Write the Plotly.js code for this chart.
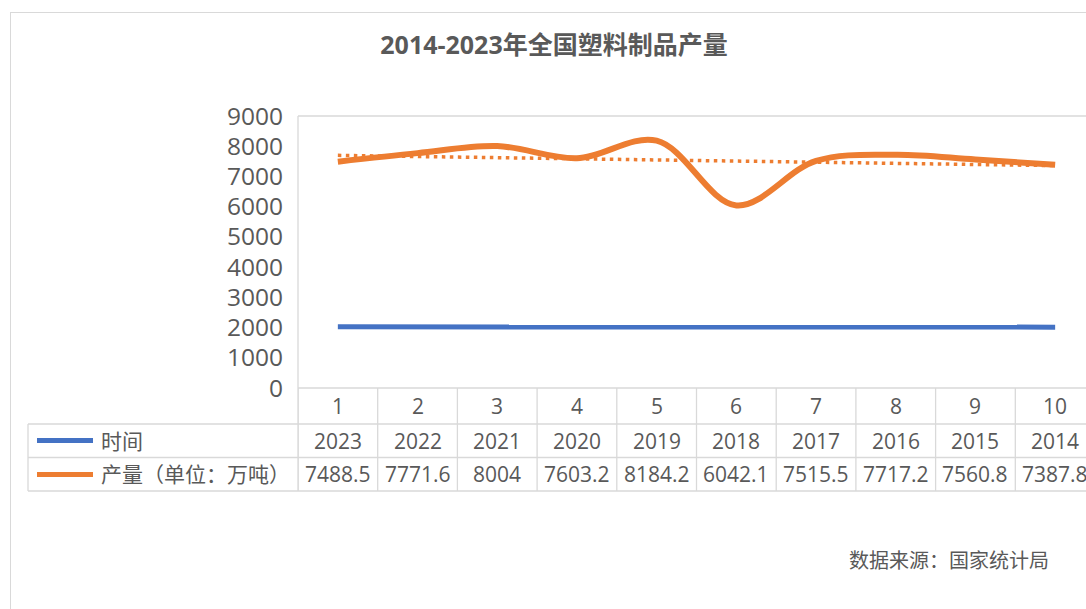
<!DOCTYPE html>
<html><head><meta charset="utf-8">
<script src="https://cdn.plot.ly/plotly-3.0.1.min.js"></script>
<style>
html,body{margin:0;padding:0;overflow:hidden;background:#fff;width:1086px;height:609px;}
#frame{position:absolute;left:10px;top:12px;width:1200px;height:700px;border-left:1px solid #d9d9d9;border-top:1px solid #d9d9d9;}
#chart{position:absolute;left:0;top:0;width:1100px;height:609px;}
</style></head>
<body>
<div id="frame"></div>
<div id="chart"></div>
<script>
const categories = [1,2,3,4,5,6,7,8,9,10];
const years = [2023,2022,2021,2020,2019,2018,2017,2016,2015,2014];
const output = [7488.5,7771.6,8004,7603.2,8184.2,6042.1,7515.5,7717.2,7560.8,7387.8];
const outputLabels = ['7488.5','7771.6','8004','7603.2','8184.2','6042.1','7515.5','7717.2','7560.8','7387.8'];
const yTicks = [0,1000,2000,3000,4000,5000,6000,7000,8000,9000];
const seriesNames = ['时间','产量（单位：万吨）'];
const titleText = '2014-2023年全国塑料制品产量';
const sourceText = '数据来源：国家统计局';

// linear trendline (least squares) of output
const n = categories.length;
const mx = categories.reduce((a,b)=>a+b,0)/n;
const my = output.reduce((a,b)=>a+b,0)/n;
let sxy=0,sxx=0;
for(let i=0;i<n;i++){sxy+=(categories[i]-mx)*(output[i]-my);sxx+=(categories[i]-mx)**2;}
const slope=sxy/sxx, icpt=my-slope*mx;
const trend = categories.map(x=>icpt+slope*x);

const W=1100,H=609,L=298,R=1095,T=116,B=388;
const pw=R-L, ph=B-T;
const px=v=>(v-L)/pw, py=v=>(B-v)/ph;

const FONT='"Open Sans","Noto Sans CJK SC",sans-serif';
const TXT='#595959', GRID='#d9d9d9';
const BLUE='#4472C4', ORANGE='#ED7D31';

const traces=[
 {x:categories,y:years,type:'scatter',mode:'lines',line:{color:BLUE,width:5},hoverinfo:'skip',name:seriesNames[0]},
 {x:categories,y:output,type:'scatter',mode:'lines',line:{color:ORANGE,width:6,shape:'spline',smoothing:1},name:seriesNames[1]},
 {x:categories,y:trend,type:'scatter',mode:'lines',line:{color:ORANGE,width:3.5,dash:'3.5px,4.5px'},name:'trend'}
];

const r1=424, r2=457.5, r3=491;
const shapes=[];
const ln=(x0,y0,x1,y1,xref,yref,color,width)=>shapes.push({type:'line',x0,y0,x1,y1,xref,yref,line:{color:color||GRID,width:width||1.3},layer:'below'});
ln(0,1,1,1,'paper','paper');
ln(0,1,0,py(r3),'paper','paper');
ln(0,0,1,0,'paper','paper');
ln(px(28),py(r1),1,py(r1),'paper','paper');
ln(px(28),py(r2),1,py(r2),'paper','paper');
ln(px(28),py(r3),1,py(r3),'paper','paper');
ln(px(28),py(r1),px(28),py(r3),'paper','paper');
for(let i=0;i<=n;i++){ln(categories[0]-0.5+i,0,categories[0]-0.5+i,py(r3),'x','paper');}
shapes.push({type:'line',xref:'paper',yref:'paper',x0:px(37),x1:px(93),y0:py(440.5),y1:py(440.5),line:{color:BLUE,width:5}});
shapes.push({type:'line',xref:'paper',yref:'paper',x0:px(37),x1:px(93),y0:py(474.5),y1:py(474.5),line:{color:ORANGE,width:5}});

const ann=[];
const tf={family:FONT,size:21,color:TXT};
categories.forEach((c,i)=>{
 ann.push({x:c,y:py(406),xref:'x',yref:'paper',text:String(c),showarrow:false,font:tf,xanchor:'center',yanchor:'middle'});
 ann.push({x:c,y:py(440.5),xref:'x',yref:'paper',text:String(years[i]),showarrow:false,font:tf,xanchor:'center',yanchor:'middle'});
 ann.push({x:c,y:py(474.5),xref:'x',yref:'paper',text:outputLabels[i],showarrow:false,font:tf,xanchor:'center',yanchor:'middle'});
});
ann.push({x:px(99),y:py(440.5),xref:'paper',yref:'paper',text:seriesNames[0],showarrow:false,font:tf,xanchor:'left',yanchor:'middle'});
ann.push({x:px(99),y:py(474.5),xref:'paper',yref:'paper',text:seriesNames[1],showarrow:false,font:tf,xanchor:'left',yanchor:'middle'});
ann.push({x:px(1051),y:py(560),xref:'paper',yref:'paper',text:sourceText,showarrow:false,font:{family:FONT,size:20,color:TXT},xanchor:'right',yanchor:'middle'});

const layout={
 width:W,height:H,
 margin:{l:L,r:W-R,t:T,b:H-B,pad:0},
 paper_bgcolor:'rgba(0,0,0,0)',plot_bgcolor:'rgba(0,0,0,0)',
 showlegend:false,
 title:{text:'<b>'+titleText+'</b>',xref:'container',yref:'container',x:554/W,y:1-45/H,xanchor:'center',yanchor:'middle',font:{family:FONT,size:25,color:TXT}},
 xaxis:{range:[0.5,10.5],showgrid:false,zeroline:false,showline:false,showticklabels:false,ticks:'',fixedrange:true},
 yaxis:{range:[0,9000],tickvals:yTicks,ticktext:yTicks.map(String),showgrid:false,zeroline:false,showline:false,ticks:'',
   tickfont:{family:FONT,size:24.5,color:TXT},ticklabelstandoff:14,fixedrange:true},
 shapes:shapes,annotations:ann
};
Plotly.newPlot('chart',traces,layout,{displayModeBar:false,staticPlot:true});
</script>
</body></html>
